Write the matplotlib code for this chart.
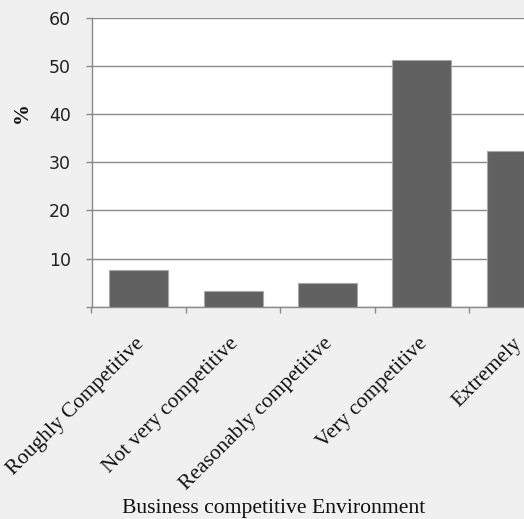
import numpy as np
import matplotlib
matplotlib.use("Agg")
import matplotlib.pyplot as plt
from matplotlib.transforms import ScaledTranslation, blended_transform_factory

# Survey results: share of firms by perceived competitive environment
categories = ["Roughly Competitive", "Not very competitive", "Reasonably competitive",
              "Very competitive", "Extremely"]
percent = [7.6, 3.3, 4.9, 51.3, 32.4]
y_ticks = [0, 10, 20, 30, 40, 50, 60]
y_tick_labels = ["", "10", "20", "30", "40", "50", "60"]

GRID = "#8a8a8a"
BAR = "#616161"
BG = "#f0f0f0"

fig = plt.figure(figsize=(5.24, 5.19), dpi=100, facecolor=BG)
# the plot area runs past the right edge of the canvas
ax = fig.add_axes([91.5 / 524, (519 - 306.7) / 519, 472 / 524, 288.7 / 519])
ax.set_facecolor("white")

x = np.arange(len(categories))
ax.bar(x, percent, width=0.625, color=BAR, edgecolor="#a8a8a8", linewidth=0.8, zorder=3)

ax.set_xlim(-0.5, len(categories) - 0.5)
ax.set_ylim(0, 60)

ax.set_yticks(y_ticks)
ax.set_yticklabels(y_tick_labels, fontfamily="DejaVu Sans", fontsize=12.5, color="#222222")
ax.yaxis.grid(True, color=GRID, linewidth=1.0, zorder=0)
ax.set_axisbelow(True)

# category labels: slanted, right end placed just below each bar centre
ax.set_xticks(x)
ax.set_xticklabels([])
ax.tick_params(axis="x", which="major", length=0)
label_tr = blended_transform_factory(ax.transData, ax.transAxes) + \
    ScaledTranslation(2.5 / 100, -34.5 / 100, fig.dpi_scale_trans)
for xi, name in zip(x, categories):
    ax.text(xi, 0, name, transform=label_tr, rotation=45, ha="right", va="center",
            rotation_mode="anchor", fontfamily="Liberation Serif", fontsize=15.4,
            color="#111111", clip_on=False)

ax.set_xticks(np.arange(-0.5, len(categories), 1.0), minor=True)
ax.tick_params(axis="x", which="minor", length=4.3, width=1.0, color=GRID)
ax.tick_params(axis="y", length=4.3, width=1.0, color=GRID, pad=10.5)

for side in ("top", "right"):
    ax.spines[side].set_visible(False)
for side in ("left", "bottom"):
    ax.spines[side].set_color(GRID)
    ax.spines[side].set_linewidth(1.0)

ax.set_xlabel("Business competitive Environment", fontfamily="Liberation Serif",
              fontsize=15.6, color="#111111")
ax.xaxis.label.set_va("baseline")
ax.xaxis.set_label_coords(0.386, -0.713)

ax.set_ylabel("%", fontfamily="Liberation Serif", fontweight="bold", fontsize=15,
              color="#111111")
ax.yaxis.label.set_va("center")
ax.yaxis.label.set_ha("center")
ax.yaxis.set_label_coords(-0.148, 0.671)

fig.savefig("out.png", dpi=100, facecolor=BG)
